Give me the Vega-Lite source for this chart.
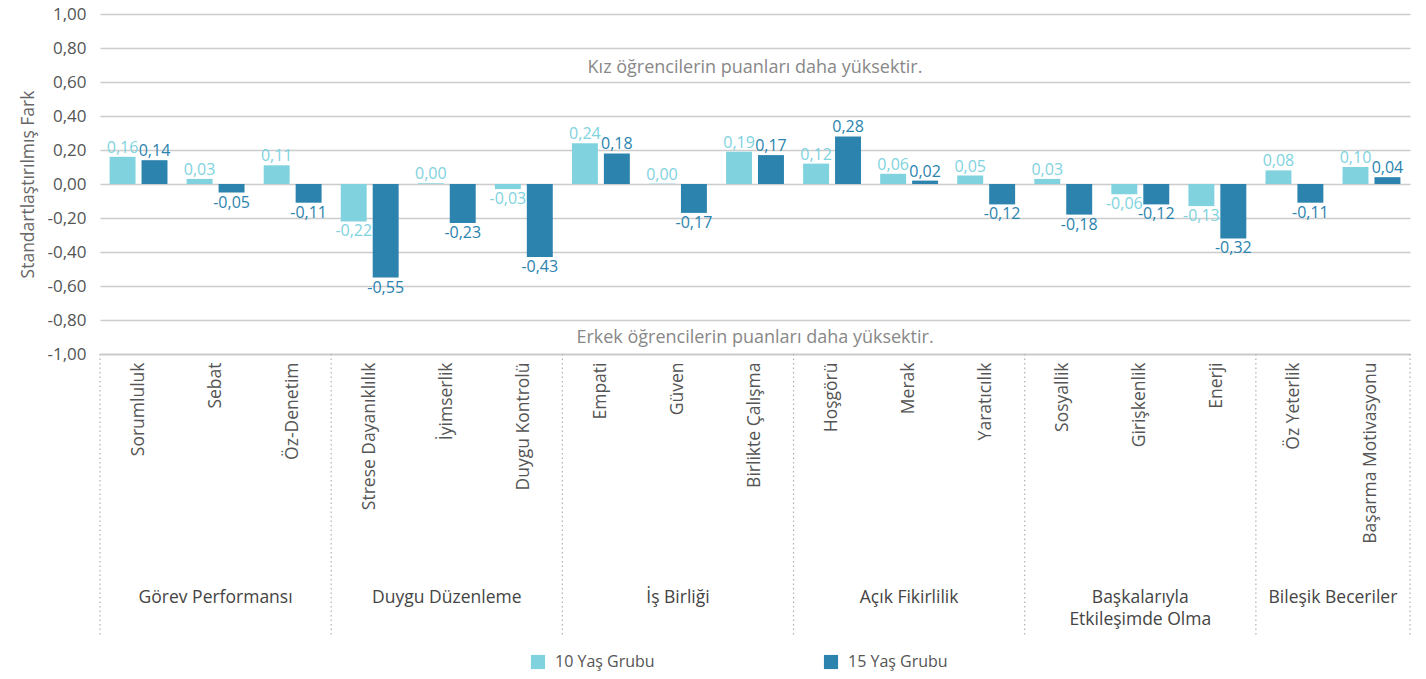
{
  "$schema": "https://vega.github.io/schema/vega-lite/v6.json",
  "autosize": {"type": "none"},
  "padding": {"left": 100, "top": 14, "right": 16, "bottom": 325},
  "width": 1310,
  "height": 340,
  "config": {
    "font": "Open Sans",
    "view": {"stroke": null},
    "axisX": {"labelAngle": -90, "labelAlign": "right", "labelBaseline": "middle", "labelPadding": 8, "labelFontSize": 17.5, "labelColor": "#555555", "ticks": false, "domainColor": "#c8c8c8", "domainWidth": 1.5, "labelLimit": 300},
    "locale": {"number": {"decimal": ",", "thousands": ".", "grouping": [3], "currency": ["", " TL"], "minus": "-"}}
  },
  "datasets": {
    "bars": [
      {"cat": "Sorumluluk", "grp": "10 Yaş Grubu", "v": 0.16},
      {"cat": "Sorumluluk", "grp": "15 Yaş Grubu", "v": 0.14},
      {"cat": "Sebat", "grp": "10 Yaş Grubu", "v": 0.03},
      {"cat": "Sebat", "grp": "15 Yaş Grubu", "v": -0.05},
      {"cat": "Öz-Denetim", "grp": "10 Yaş Grubu", "v": 0.11},
      {"cat": "Öz-Denetim", "grp": "15 Yaş Grubu", "v": -0.11},
      {"cat": "Strese Dayanıklılık", "grp": "10 Yaş Grubu", "v": -0.22},
      {"cat": "Strese Dayanıklılık", "grp": "15 Yaş Grubu", "v": -0.55},
      {"cat": "İyimserlik", "grp": "10 Yaş Grubu", "v": 0.004},
      {"cat": "İyimserlik", "grp": "15 Yaş Grubu", "v": -0.23},
      {"cat": "Duygu Kontrolü", "grp": "10 Yaş Grubu", "v": -0.03},
      {"cat": "Duygu Kontrolü", "grp": "15 Yaş Grubu", "v": -0.43},
      {"cat": "Empati", "grp": "10 Yaş Grubu", "v": 0.24},
      {"cat": "Empati", "grp": "15 Yaş Grubu", "v": 0.18},
      {"cat": "Güven", "grp": "10 Yaş Grubu", "v": 0.002},
      {"cat": "Güven", "grp": "15 Yaş Grubu", "v": -0.17},
      {"cat": "Birlikte Çalışma", "grp": "10 Yaş Grubu", "v": 0.19},
      {"cat": "Birlikte Çalışma", "grp": "15 Yaş Grubu", "v": 0.17},
      {"cat": "Hoşgörü", "grp": "10 Yaş Grubu", "v": 0.12},
      {"cat": "Hoşgörü", "grp": "15 Yaş Grubu", "v": 0.28},
      {"cat": "Merak", "grp": "10 Yaş Grubu", "v": 0.06},
      {"cat": "Merak", "grp": "15 Yaş Grubu", "v": 0.02},
      {"cat": "Yaratıcılık", "grp": "10 Yaş Grubu", "v": 0.05},
      {"cat": "Yaratıcılık", "grp": "15 Yaş Grubu", "v": -0.12},
      {"cat": "Sosyallik", "grp": "10 Yaş Grubu", "v": 0.03},
      {"cat": "Sosyallik", "grp": "15 Yaş Grubu", "v": -0.18},
      {"cat": "Girişkenlik", "grp": "10 Yaş Grubu", "v": -0.06},
      {"cat": "Girişkenlik", "grp": "15 Yaş Grubu", "v": -0.12},
      {"cat": "Enerji", "grp": "10 Yaş Grubu", "v": -0.13},
      {"cat": "Enerji", "grp": "15 Yaş Grubu", "v": -0.32},
      {"cat": "Öz Yeterlik", "grp": "10 Yaş Grubu", "v": 0.08},
      {"cat": "Öz Yeterlik", "grp": "15 Yaş Grubu", "v": -0.11},
      {"cat": "Başarma Motivasyonu", "grp": "10 Yaş Grubu", "v": 0.10},
      {"cat": "Başarma Motivasyonu", "grp": "15 Yaş Grubu", "v": 0.04}
    ],
    "groups3": [
      {"cat": "Sebat", "label": "Görev Performansı", "v": -2.38},
      {"cat": "İyimserlik", "label": "Duygu Düzenleme", "v": -2.38},
      {"cat": "Güven", "label": "İş Birliği", "v": -2.38},
      {"cat": "Merak", "label": "Açık Fikirlilik", "v": -2.38},
      {"cat": "Girişkenlik", "label": "Başkalarıyla\nEtkileşimde Olma", "v": -2.38}
    ],
    "groups2": [
      {"cat": "Öz Yeterlik", "label": "Bileşik Beceriler", "v": -2.38}
    ],
    "sepLeft": [
      {"cat": "Sorumluluk", "v": -1, "v2": -2.65},
      {"cat": "Strese Dayanıklılık", "v": -1, "v2": -2.65},
      {"cat": "Empati", "v": -1, "v2": -2.65},
      {"cat": "Hoşgörü", "v": -1, "v2": -2.65},
      {"cat": "Sosyallik", "v": -1, "v2": -2.65},
      {"cat": "Öz Yeterlik", "v": -1, "v2": -2.65}
    ],
    "sepRight": [
      {"cat": "Başarma Motivasyonu", "v": -1, "v2": -2.65}
    ],
    "notes": [
      {"cat": "Birlikte Çalışma", "v": 0.685, "label": "Kız öğrencilerin puanları daha yüksektir."},
      {"cat": "Birlikte Çalışma", "v": -0.905, "label": "Erkek öğrencilerin puanları daha yüksektir."}
    ]
  },
  "encoding": {
    "y": {
      "field": "v", "type": "quantitative", "title": "Standartlaştırılmış Fark",
      "scale": {"domain": [-1, 1], "nice": false},
      "axis": {"values": [-1, -0.8, -0.6, -0.4, -0.2, 0, 0.2, 0.4, 0.6, 0.8, 1], "format": ".2f", "titleFontSize": 17.5, "titleFontWeight": "normal", "titleColor": "#666666", "titlePadding": 9, "labelOverlap": false, "labelFontSize": 17, "labelColor": "#555555", "labelPadding": 14, "ticks": false, "domain": false, "gridColor": "#cccccc", "gridWidth": 1.5}
    }
  },
  "layer": [
    {
      "data": {"name": "bars"},
      "mark": {"type": "bar"},
      "encoding": {
        "x": {
          "field": "cat", "type": "nominal", "title": null,
          "scale": {"domain": ["Sorumluluk", "Sebat", "Öz-Denetim", "Strese Dayanıklılık", "İyimserlik", "Duygu Kontrolü", "Empati", "Güven", "Birlikte Çalışma", "Hoşgörü", "Merak", "Yaratıcılık", "Sosyallik", "Girişkenlik", "Enerji", "Öz Yeterlik", "Başarma Motivasyonu"], "paddingInner": 0, "paddingOuter": 0}
        },
        "xOffset": {"field": "grp", "type": "nominal", "scale": {"domain": ["10 Yaş Grubu", "15 Yaş Grubu"], "paddingInner": 0.1875, "paddingOuter": 0.3}},
        "color": {
          "field": "grp", "type": "nominal",
          "scale": {"domain": ["10 Yaş Grubu", "15 Yaş Grubu"], "range": ["#80d3de", "#2b83ae"]},
          "legend": {"title": null, "orient": "none", "direction": "horizontal", "legendX": 430, "legendY": 640, "padding": 0, "symbolType": "square", "symbolSize": 200, "symbolStrokeWidth": 0, "labelFontSize": 16, "labelColor": "#555555", "labelOffset": 9, "columnPadding": 168}
        }
      }
    },
    {
      "data": {"name": "bars"},
      "transform": [{"filter": "datum.v >= 0"}],
      "mark": {"type": "text", "baseline": "bottom", "dy": -1, "fontSize": 16},
      "encoding": {
        "x": {"field": "cat", "type": "nominal", "title": null},
        "xOffset": {"field": "grp", "type": "nominal"},
        "text": {"field": "v", "type": "quantitative", "format": ".2f"},
        "color": {"field": "grp", "type": "nominal", "scale": {"domain": ["10 Yaş Grubu", "15 Yaş Grubu"], "range": ["#55c4d5", "#2a6f99"]}, "legend": null}
      }
    },
    {
      "data": {"name": "bars"},
      "transform": [{"filter": "datum.v < 0"}],
      "mark": {"type": "text", "baseline": "top", "dy": 2, "fontSize": 16},
      "encoding": {
        "x": {"field": "cat", "type": "nominal", "title": null},
        "xOffset": {"field": "grp", "type": "nominal"},
        "text": {"field": "v", "type": "quantitative", "format": ".2f"},
        "color": {"field": "grp", "type": "nominal", "legend": null}
      }
    },
    {
      "data": {"name": "notes"},
      "mark": {"type": "text", "baseline": "middle", "fontSize": 18, "color": "#888888"},
      "encoding": {
        "x": {"field": "cat", "type": "nominal", "title": null},
        "text": {"field": "label"}
      }
    },
    {
      "data": {"name": "sepLeft"},
      "mark": {"type": "rule", "clip": false, "strokeDash": [1.5, 3], "color": "#b0b0b0", "strokeWidth": 1.2},
      "encoding": {
        "x": {"field": "cat", "type": "nominal", "bandPosition": 0, "title": null},
        "y2": {"field": "v2"}
      }
    },
    {
      "data": {"name": "sepRight"},
      "mark": {"type": "rule", "clip": false, "strokeDash": [1.5, 3], "color": "#b0b0b0", "strokeWidth": 1.2},
      "encoding": {
        "x": {"field": "cat", "type": "nominal", "bandPosition": 1, "title": null},
        "y2": {"field": "v2"}
      }
    },
    {
      "data": {"name": "groups3"},
      "mark": {"type": "text", "clip": false, "baseline": "top", "fontSize": 17.5, "color": "#444444", "lineBreak": "\n", "lineHeight": 22},
      "encoding": {
        "x": {"field": "cat", "type": "nominal", "bandPosition": 0.5, "title": null},
        "text": {"field": "label"}
      }
    },
    {
      "data": {"name": "groups2"},
      "mark": {"type": "text", "clip": false, "baseline": "top", "fontSize": 17.5, "color": "#444444"},
      "encoding": {
        "x": {"field": "cat", "type": "nominal", "bandPosition": 1, "title": null},
        "text": {"field": "label"}
      }
    }
  ]
}
